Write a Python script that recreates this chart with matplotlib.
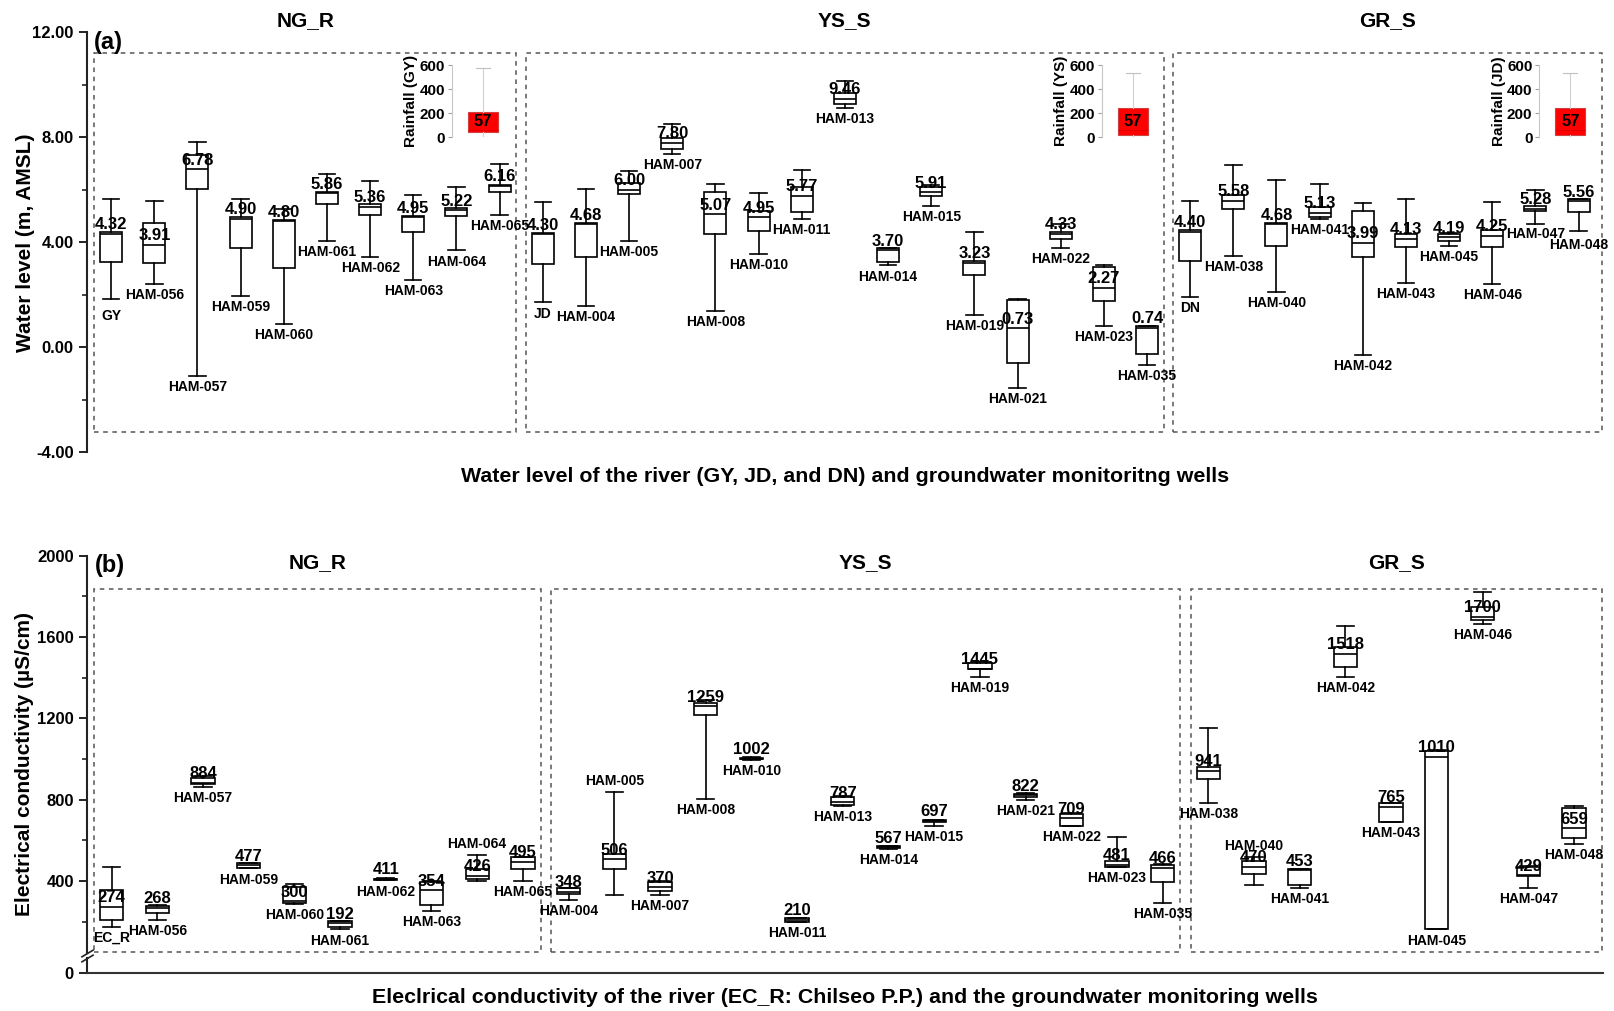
import numpy as np
import matplotlib
matplotlib.use("Agg")
import matplotlib.pyplot as plt
from matplotlib.patches import Rectangle
from matplotlib.ticker import MultipleLocator, FormatStrFormatter

plt.rcParams['font.family'] = ['Liberation Sans', 'DejaVu Sans']
plt.rcParams['font.weight'] = 'bold'

# ---------------- (a) water level (m, AMSL) ----------------
wl_groups = ['NG_R', 'YS_S', 'GR_S']
wl_sizes = [10, 15, 10]
wl_names = ['GY', 'HAM-056', 'HAM-057', 'HAM-059', 'HAM-060', 'HAM-061', 'HAM-062',
            'HAM-063', 'HAM-064', 'HAM-065',
            'JD', 'HAM-004', 'HAM-005', 'HAM-007', 'HAM-008', 'HAM-010', 'HAM-011',
            'HAM-013', 'HAM-014', 'HAM-015', 'HAM-019', 'HAM-021', 'HAM-022',
            'HAM-023', 'HAM-035',
            'DN', 'HAM-038', 'HAM-040', 'HAM-041', 'HAM-042', 'HAM-043', 'HAM-045',
            'HAM-046', 'HAM-047', 'HAM-048']
wl_lo = [1.84, 2.40, -1.09, 1.96, 0.89, 4.04, 3.45, 2.55, 3.69, 5.05,
         1.71, 1.59, 4.06, 7.37, 1.40, 3.56, 4.88, 9.13, 3.12, 5.40, 1.22, -1.54, 3.77, 0.81, -0.67,
         1.92, 3.49, 2.12, 4.88, -0.28, 2.44, 3.85, 2.40, 4.69, 4.42]
wl_q1 = [3.26, 3.20, 6.02, 3.77, 3.01, 5.45, 5.04, 4.38, 5.00, 5.90,
         3.17, 3.44, 5.83, 7.57, 4.30, 4.44, 5.17, 9.27, 3.24, 5.77, 2.74, -0.61, 4.13, 1.77, -0.25,
         3.30, 5.26, 3.85, 4.97, 3.44, 3.81, 4.05, 3.83, 5.19, 5.14]
wl_med = [4.32, 3.91, 6.78, 4.90, 4.80, 5.86, 5.36, 4.95, 5.22, 6.16,
          4.30, 4.68, 6.00, 7.80, 5.07, 4.95, 5.77, 9.46, 3.70, 5.91, 3.23, 0.73, 4.33, 2.27, 0.74,
          4.40, 5.58, 4.68, 5.13, 3.99, 4.13, 4.19, 4.25, 5.28, 5.56]
wl_q3 = [4.40, 4.72, 7.33, 4.98, 4.85, 5.93, 5.45, 5.00, 5.30, 6.20,
         4.36, 4.75, 6.27, 7.96, 5.93, 5.21, 6.12, 9.70, 3.77, 6.12, 3.30, 1.82, 4.41, 3.07, 0.80,
         4.47, 5.80, 4.75, 5.35, 5.21, 4.30, 4.30, 4.47, 5.38, 5.64]
wl_hi = [5.64, 5.57, 7.81, 5.64, 5.26, 6.60, 6.32, 5.79, 6.10, 7.00,
         5.55, 6.02, 6.73, 8.51, 6.23, 5.89, 6.76, 10.16, 3.80, 6.20, 4.39, 1.84, 4.70, 3.14, 0.82,
         5.57, 6.95, 6.36, 6.21, 5.49, 5.65, 4.34, 5.55, 5.98, 5.66]

# rainfall insets (mm)
rain_labels = ['Rainfall (GY)', 'Rainfall (YS)', 'Rainfall (JD)']
rain_lo = [0, 0, 0]
rain_q1 = [48, 20, 22]
rain_med = [57, 57, 57]
rain_q3 = [208, 244, 244]
rain_hi = [580, 534, 536]

# ---------------- (b) electrical conductivity (uS/cm) ----------------
ec_groups = ['NG_R', 'YS_S', 'GR_S']
ec_sizes = [10, 14, 9]
ec_names = ['EC_R', 'HAM-056', 'HAM-057', 'HAM-059', 'HAM-060', 'HAM-061', 'HAM-062',
            'HAM-063', 'HAM-064', 'HAM-065',
            'HAM-004', 'HAM-005', 'HAM-007', 'HAM-008', 'HAM-010', 'HAM-011', 'HAM-013',
            'HAM-014', 'HAM-015', 'HAM-019', 'HAM-021', 'HAM-022', 'HAM-023', 'HAM-035',
            'HAM-038', 'HAM-040', 'HAM-041', 'HAM-042', 'HAM-043', 'HAM-045', 'HAM-046',
            'HAM-047', 'HAM-048']
ec_lo = [175, 208, 862, 462, 287, 162, 403, 254, 398, 400,
         307, 331, 332, 802, 997, 198, 768, 556, 671, 1402, 800, 670, 468, 290,
         782, 380, 365, 1402, 690, 162, 1664, 365, 582]
ec_q1 = [208, 243, 876, 465, 290, 176, 405, 282, 408, 457,
         334, 459, 350, 1217, 999, 200, 772, 560, 688, 1441, 812, 672, 470, 397,
         902, 435, 381, 1454, 692, 165, 1684, 426, 610]
ec_med = [274, 268, 884, 477, 300, 192, 411, 354, 426, 495,
          348, 506, 370, 1259, 1002, 210, 787, 567, 697, 1445, 822, 709, 481, 466,
          941, 470, 453, 1518, 765, 1010, 1700, 429, 659]
ec_q3 = [356, 278, 908, 487, 372, 202, 412, 397, 457, 516,
         364, 531, 397, 1274, 1006, 216, 815, 570, 699, 1474, 830, 730, 500, 479,
         960, 500, 459, 1552, 782, 1040, 1746, 471, 761]
ec_hi = [471, 282, 915, 490, 383, 205, 413, 400, 528, 520,
         366, 839, 400, 1290, 1008, 218, 818, 572, 700, 1478, 832, 735, 618, 485,
         1154, 520, 460, 1654, 785, 1044, 1823, 473, 771]
ec_label_above = ['HAM-064', 'HAM-005', 'HAM-040']

W, H = 1614, 1011
fig = plt.figure(figsize=(W / 100, H / 100), dpi=100)


def fr(x0, y0, x1, y1):
    # pixel box -> figure fraction
    return [x0 / W, 1 - y1 / H, (x1 - x0) / W, (y1 - y0) / H]


ax_a = fig.add_axes(fr(87, 32.3, 1603, 452.3))
ax_b = fig.add_axes(fr(87, 555.7, 1603, 953.2))
ax_b0 = fig.add_axes(fr(87, 958, 1603, 973.3), sharex=ax_b)

spine_c = '#222222'
for ax in (ax_a, ax_b, ax_b0):
    for s in ('top', 'right', 'bottom'):
        ax.spines[s].set_visible(False)
    ax.spines['left'].set_linewidth(1.5)
    ax.spines['left'].set_color(spine_c)
    ax.tick_params(axis='x', bottom=False, labelbottom=False)
    ax.tick_params(axis='y', which='major', length=6, width=1.4, labelsize=12, color=spine_c)
    ax.tick_params(axis='y', which='minor', length=3.5, width=1.2, color=spine_c)
    ax.patch.set_alpha(0)


def draw_boxes(ax, names, lo, q1, med, q3, hi, fmt, above=(), nudge=None):
    nudge = nudge or {}
    pos = np.arange(len(names))
    stats = [dict(whislo=a, q1=b, med=c, q3=d, whishi=e, fliers=[])
             for a, b, c, d, e in zip(lo, q1, med, q3, hi)]
    ax.bxp(stats, positions=pos, widths=0.51, capwidths=0.38, showfliers=False,
           patch_artist=True, manage_ticks=False,
           boxprops=dict(facecolor='white', edgecolor='black', linewidth=1.2),
           whiskerprops=dict(color='black', linewidth=1.2),
           capprops=dict(color='black', linewidth=1.2),
           medianprops=dict(color='black', linewidth=1.2))
    for x, n, m, l, h in zip(pos, names, med, lo, hi):
        ax.annotate(fmt.format(m), (x, m), xytext=(0, 6.5), textcoords='offset points',
                    ha='center', va='center', fontsize=12, fontweight='bold', zorder=6)
        if n in above:
            yy, dy = h, 8
        else:
            yy, dy = l, -8
        ax.annotate(n, (x, yy), xytext=(0, dy + nudge.get(n, 0)), textcoords='offset points',
                    ha='center', va='center', fontsize=10, fontweight='bold', zorder=6)


def group_frames(ax, groups, sizes, y0, y1, title_y):
    start = 0
    for k, (g, n) in enumerate(zip(groups, sizes)):
        a, b = start - 0.39, start + n - 1 + 0.39
        if k == len(groups) - 1:
            b = ax.get_xlim()[1] - 0.03
        ax.add_patch(Rectangle((a, y0), b - a, y1 - y0, fill=False, ls=(0, (3, 3)),
                               lw=1.1, ec='#555555', zorder=1))
        ax.text((a + b) / 2, title_y, g, ha='center', va='center', fontsize=15,
                fontweight='bold')
        start += n


# ---- panel (a) ----
ax_a.set_xlim(-0.56, 34.565)
ax_a.set_ylim(-4, 12)
ax_a.yaxis.set_major_locator(MultipleLocator(4))
ax_a.yaxis.set_minor_locator(MultipleLocator(2))
ax_a.yaxis.set_major_formatter(FormatStrFormatter('%.2f'))
draw_boxes(ax_a, wl_names, wl_lo, wl_q1, wl_med, wl_q3, wl_hi, '{:.2f}',
           nudge={'GY': -4, 'HAM-047': 1, 'HAM-048': -2})
group_frames(ax_a, wl_groups, wl_sizes, -3.21, 11.2, 12.44)
ax_a.text(0.0044, 0.975, '(a)', transform=ax_a.transAxes, ha='left', va='center',
          fontsize=17, fontweight='bold')

for k, x0 in enumerate([7.9, 22.95, 33.09]):
    ia = ax_a.inset_axes([x0, 8.0, 1.44, 2.75], transform=ax_a.transData)
    st = [dict(whislo=rain_lo[k], q1=rain_q1[k], med=rain_med[k], q3=rain_q3[k],
               whishi=rain_hi[k], fliers=[])]
    ia.bxp(st, positions=[1], widths=0.97, capwidths=0.45, showfliers=False,
           patch_artist=True, manage_ticks=False,
           boxprops=dict(facecolor='#ff0000', edgecolor='#d04040', linewidth=0.8),
           whiskerprops=dict(color='#d0d0d0', linewidth=0.8),
           capprops=dict(color='#c0c0c0', linewidth=0.8),
           medianprops=dict(color='#e00000', linewidth=0.8))
    ia.text(1, (rain_q1[k] + rain_q3[k]) / 2, str(rain_med[k]), ha='center', va='center',
            fontsize=12, fontweight='bold')
    ia.set_xlim(0, 2)
    ia.set_ylim(0, 600)
    ia.set_yticks([0, 200, 400, 600])
    ia.patch.set_alpha(0)
    for s in ('top', 'right', 'bottom'):
        ia.spines[s].set_visible(False)
    ia.spines['left'].set_color('#c8c8c8')
    ia.tick_params(axis='x', bottom=False, labelbottom=False)
    ia.tick_params(axis='y', length=3, width=0.8, color='#a0a0a0', labelsize=11, pad=2)
    ia.set_ylabel(rain_labels[k], fontsize=11, fontweight='bold', labelpad=1)

# ---- panel (b) ----
ax_b.set_xlim(-0.538, 32.636)
ax_b.set_ylim(45, 2000)
ax_b.set_yticks([400, 800, 1200, 1600, 2000])
ax_b.yaxis.set_minor_locator(MultipleLocator(200))
draw_boxes(ax_b, ec_names, ec_lo, ec_q1, ec_med, ec_q3, ec_hi, '{:d}', ec_label_above)
group_frames(ax_b, ec_groups, ec_sizes, 52, 1835, 1964)
ax_b.text(0.005, 0.975, '(b)', transform=ax_b.transAxes, ha='left', va='center',
          fontsize=17, fontweight='bold')

ax_b0.set_ylim(0, 74)
ax_b0.set_yticks([0])
ax_b0.spines['bottom'].set_visible(True)
ax_b0.spines['bottom'].set_linewidth(1.5)
ax_b0.spines['bottom'].set_color('#333333')

brk = dict(marker=[(-1, -0.6), (1, 0.6)], markersize=9, linestyle='none', color=spine_c,
           mec=spine_c, mew=1.2, clip_on=False)
ax_b.plot([0], [0], transform=ax_b.transAxes, **brk)
ax_b0.plot([0], [1], transform=ax_b0.transAxes, **brk)

# axis titles
fig.text(25.8 / W, 1 - 242.3 / H, 'Water level (m, AMSL)', rotation=90, ha='center',
         va='center', fontsize=15, fontweight='bold')
fig.text(25 / W, 1 - 764 / H, 'Electrical conductivity (µS/cm)', rotation=90, ha='center',
         va='center', fontsize=15, fontweight='bold')
fig.text(845 / W, 1 - 476.6 / H,
         'Water level of the river (GY, JD, and DN) and groundwater monitoritng wells',
         ha='center', va='center', fontsize=15.4, fontweight='bold')
fig.text(845 / W, 1 - 997.5 / H,
         'Eleclrical conductivity of the river (EC_R: Chilseo P.P.) and the groundwater monitoring wells',
         ha='center', va='center', fontsize=15.4, fontweight='bold')

fig.savefig('out.png', dpi=100)
